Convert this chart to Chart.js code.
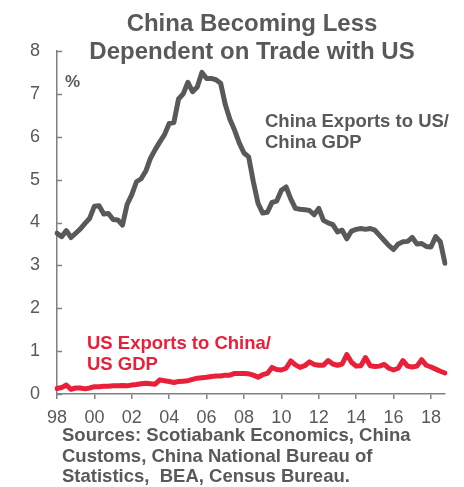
<!DOCTYPE html>
<html>
<head>
  <meta charset="UTF-8">
  <title>China Becoming Less Dependent on Trade with US</title>
  <script src="https://cdn.jsdelivr.net/npm/chart.js"></script>
  <style>
    html, body {
      margin: 0;
      padding: 0;
      background: #fff;
    }

    .wrap {
      position: relative;
      width: 464px;
      height: 487px;
      font-family: "Liberation Sans", Arial, sans-serif;
      color: #595959;
    }

    canvas {
      position: absolute;
      left: 0;
      top: 0;
    }

    .txt {
      position: absolute;
      font-weight: bold;
      white-space: pre;
    }

    .title {
      left: 57px;
      width: 390px;
      top: 9px;
      font-size: 24px;
      line-height: 27.5px;
      text-align: center;
    }

    .pct {
      left: 65px;
      top: 72px;
      font-size: 17px;
    }

    .lbl-cn {
      left: 265px;
      top: 110px;
      font-size: 18.5px;
      line-height: 21px;
    }

    .lbl-us {
      left: 87px;
      top: 332px;
      font-size: 18.5px;
      line-height: 21px;
      color: #e8203a;
    }

    .src {
      left: 62px;
      top: 425px;
      font-size: 18.5px;
      line-height: 20.7px;
    }
  </style>
</head>
<body>
  <div class="wrap">
    <canvas id="chart" width="464" height="487"></canvas>
    <div class="txt title">China Becoming Less
Dependent on Trade with US</div>
    <div class="txt pct">%</div>
    <div class="txt lbl-cn">China Exports to US/
China GDP</div>
    <div class="txt lbl-us">US Exports to China/
US GDP</div>
    <div class="txt src">Sources: Scotiabank Economics, China
Customs, China National Bureau of
Statistics,  BEA, Census Bureau.</div>
  </div>

  <script>
    // quarterly, 1998Q1 .. 2018Q4
    const years = [1998, 1999, 2000, 2001, 2002, 2003, 2004, 2005, 2006, 2007,
      2008, 2009, 2010, 2011, 2012, 2013, 2014, 2015, 2016, 2017, 2018];

    // China exports to US as % of China GDP
    const chinaExportsToUS = [
      3.75, 3.67, 3.81, 3.65,   // 98
      3.75, 3.85, 3.98, 4.10,   // 99
      4.38, 4.39, 4.20, 4.21,   // 00
      4.07, 4.06, 3.94, 4.42,   // 01
      4.65, 4.95, 5.02, 5.20,   // 02
      5.50, 5.70, 5.88, 6.05,   // 03
      6.31, 6.33, 6.88, 7.00,   // 04
      7.27, 7.05, 7.16, 7.50,   // 05
      7.36, 7.36, 7.33, 7.25,   // 06
      6.75, 6.40, 6.15, 5.85,   // 07
      5.62, 5.53, 4.95, 4.45,   // 08
      4.22, 4.24, 4.47, 4.50,   // 09
      4.75, 4.83, 4.55, 4.33,   // 10
      4.31, 4.30, 4.28, 4.18,   // 11
      4.33, 4.05, 3.99, 3.95,   // 12
      3.78, 3.82, 3.62, 3.80,   // 13
      3.84, 3.86, 3.84, 3.86,   // 14
      3.82, 3.70, 3.58, 3.46,   // 15
      3.37, 3.50, 3.55, 3.56,   // 16
      3.65, 3.50, 3.51, 3.44,   // 17
      3.43, 3.67, 3.55, 3.05    // 18
    ];

    // US exports to China as % of US GDP
    const usExportsToChina = [
      0.13, 0.15, 0.21, 0.11,
      0.14, 0.14, 0.12, 0.14,
      0.17, 0.17, 0.18, 0.18,
      0.19, 0.19, 0.20, 0.19,
      0.21, 0.22, 0.24, 0.25,
      0.24, 0.23, 0.33, 0.31,
      0.29, 0.27, 0.29, 0.30,
      0.31, 0.34, 0.37, 0.38,
      0.39, 0.41, 0.42, 0.42,
      0.44, 0.44, 0.48, 0.48,
      0.48, 0.47, 0.44, 0.39,
      0.45, 0.48, 0.62, 0.57,
      0.56, 0.60, 0.77, 0.68,
      0.62, 0.66, 0.75, 0.69,
      0.67, 0.67, 0.78, 0.70,
      0.67, 0.70, 0.92, 0.74,
      0.65, 0.66, 0.85, 0.66,
      0.64, 0.65, 0.69, 0.60,
      0.56, 0.60, 0.78, 0.65,
      0.63, 0.65, 0.80, 0.67,
      0.63, 0.58, 0.53, 0.49
    ];

    const yTicks = [0, 1, 2, 3, 4, 5, 6, 7, 8];

    const quarters = [];
    years.forEach(y => {
      for (let q = 1; q <= 4; q++) quarters.push(y + 'Q' + q);
    });

    const gray = '#595959';
    const axisGray = '#808080';
    const red = '#e8203a';

    // short tick marks pointing into the plot from the y axis
    const innerTicks = {
      id: 'innerTicks',
      afterDraw(chart) {
        const ctx = chart.ctx;
        const y = chart.scales.y;
        const left = chart.chartArea.left;
        ctx.save();
        ctx.strokeStyle = axisGray;
        ctx.lineWidth = 1.5;
        yTicks.forEach(v => {
          const py = Math.round(y.getPixelForValue(v)) + 0.5;
          ctx.beginPath();
          ctx.moveTo(left, py);
          ctx.lineTo(left + 5, py);
          ctx.stroke();
        });
        ctx.restore();
      }
    };

    new Chart(document.getElementById('chart').getContext('2d'), {
      type: 'line',
      data: {
        labels: quarters,
        datasets: [
          {
            label: 'China Exports to US/China GDP',
            data: chinaExportsToUS,
            borderColor: gray,
            borderWidth: 5,
            pointRadius: 0,
            tension: 0,
            fill: false,
            borderJoinStyle: 'round',
            borderCapStyle: 'round'
          },
          {
            label: 'US Exports to China/US GDP',
            data: usExportsToChina,
            borderColor: red,
            borderWidth: 5,
            pointRadius: 0,
            tension: 0,
            fill: false,
            borderJoinStyle: 'round',
            borderCapStyle: 'round'
          }
        ]
      },
      options: {
        responsive: false,
        animation: false,
        layout: {
          padding: { top: 51, right: 19, left: 0, bottom: 0 }
        },
        plugins: {
          legend: { display: false },
          title: { display: false },
          tooltip: { enabled: false }
        },
        scales: {
          x: {
            type: 'category',
            offset: false,
            afterFit: s => { s.height = 93; },
            border: { color: axisGray, width: 1.5 },
            grid: {
              drawOnChartArea: false,
              drawTicks: true,
              tickLength: 5,
              color: axisGray,
              lineWidth: 1.5
            },
            ticks: {
              autoSkip: false,
              maxRotation: 0,
              padding: 8,
              color: gray,
              font: { family: '"Liberation Sans", Arial, sans-serif', size: 18 },
              callback: function (val, i) {
                const lab = quarters[i];
                const yr = parseInt(lab, 10);
                if (lab.endsWith('Q1') && yr % 2 === 0) return String(yr).slice(2);
                return null;
              }
            }
          },
          y: {
            min: 0,
            max: 8,
            afterFit: s => { s.width = 57; },
            border: { color: axisGray, width: 1.5 },
            grid: { drawOnChartArea: false, drawTicks: false },
            afterBuildTicks: s => { s.ticks = yTicks.map(v => ({ value: v })); },
            ticks: {
              padding: 17,
              color: gray,
              font: { family: '"Liberation Sans", Arial, sans-serif', size: 18 }
            }
          }
        }
      },
      plugins: [innerTicks]
    });
  </script>
</body>
</html>
